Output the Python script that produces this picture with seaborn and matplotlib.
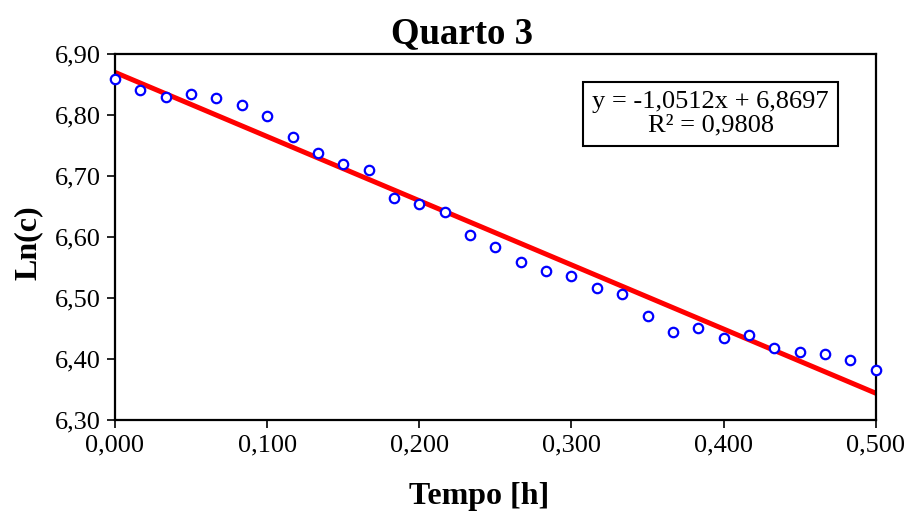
import numpy as np
import pandas as pd
import seaborn as sns
import matplotlib
matplotlib.use("Agg")
import matplotlib.pyplot as plt
from matplotlib.ticker import FuncFormatter, MultipleLocator

# Data
tempo_h = [i / 60 for i in range(31)]
ln_c = [6.859, 6.840, 6.829, 6.834, 6.827, 6.816, 6.798, 6.763, 6.737, 6.720,
        6.709, 6.664, 6.654, 6.641, 6.603, 6.584, 6.559, 6.545, 6.536, 6.516,
        6.507, 6.470, 6.445, 6.451, 6.435, 6.439, 6.419, 6.412, 6.409, 6.399,
        6.382]
slope = -1.0512
intercept = 6.8697
title = "Quarto 3"
xlabel = "Tempo [h]"
ylabel = "Ln(c)"
eq_text = "y = -1,0512x + 6,8697\nR² = 0,9808"

df = pd.DataFrame({"t": tempo_h, "ln": ln_c})
trend = pd.DataFrame({"t": [0.0, 0.5]})
trend["ln"] = slope * trend["t"] + intercept

sns.set_theme(style="white")
plt.rcParams["font.family"] = ["Liberation Serif", "DejaVu Serif"]
plt.rcParams["text.color"] = "black"
plt.rcParams["axes.labelcolor"] = "black"

fig = plt.figure(figsize=(9.09, 5.13), dpi=100)
ax = fig.add_axes([0.1265, 0.181, 0.837, 0.714])

sns.lineplot(data=trend, x="t", y="ln", ax=ax, color="#ff0000", linewidth=3.6, zorder=2)
sns.scatterplot(data=df, x="t", y="ln", ax=ax, marker="o", s=46,
                facecolor="white", edgecolor="#0000ff", linewidth=1.6, zorder=3, clip_on=False)

ax.set_xlim(0, 0.5)
ax.set_ylim(6.30, 6.90)
ax.xaxis.set_major_locator(MultipleLocator(0.1))
ax.yaxis.set_major_locator(MultipleLocator(0.1))
ax.xaxis.set_major_formatter(FuncFormatter(lambda v, p: f"{v:.3f}".replace(".", ",")))
ax.yaxis.set_major_formatter(FuncFormatter(lambda v, p: f"{v:.2f}".replace(".", ",")))
ax.tick_params(axis="both", which="major", direction="out", length=6, width=1.2,
               color="black", labelsize=19, labelcolor="black", pad=4, bottom=True, left=True)
for s in ax.spines.values():
    s.set_color("black")
    s.set_linewidth(1.6)

ax.set_title(title, fontsize=26.5, fontweight="bold", pad=8, color="black", x=0.456)
ax.set_xlabel(xlabel, fontsize=23, fontweight="bold", labelpad=19, x=0.479)
ax.set_ylabel(ylabel, fontsize=23, fontweight="bold", labelpad=9, y=0.484)

ax.text(0.783, 0.836, eq_text, transform=ax.transAxes, ha="center", va="center",
        fontsize=19, linespacing=1.1, color="black",
        bbox=dict(boxstyle="square,pad=0.35", facecolor="white", edgecolor="black", linewidth=1.5))

fig.savefig("out.png", dpi=100)
